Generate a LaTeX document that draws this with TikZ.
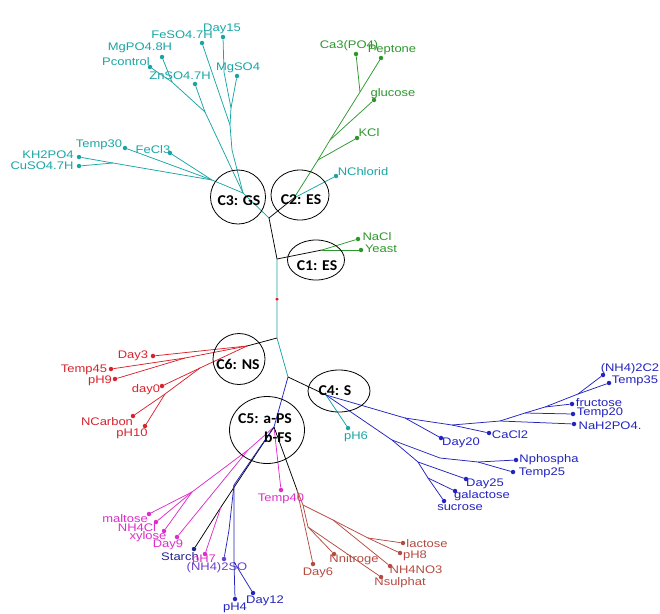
\documentclass[tikz,border=0pt]{standalone}
\usepackage{fontspec}
\usetikzlibrary{shapes.geometric}
\newfontfamily\labfont[FakeStretch=1.18]{Liberation Sans}
\newfontfamily\clfont[FakeStretch=1.05]{Carlito}
\definecolor{cy}{RGB}{25,165,165}
\definecolor{gr}{RGB}{45,150,45}
\definecolor{rd}{RGB}{215,35,45}
\definecolor{bl}{RGB}{35,35,190}
\definecolor{mg}{RGB}{220,45,200}
\definecolor{br}{RGB}{180,75,65}
\definecolor{nv}{RGB}{35,35,140}
\definecolor{pu}{RGB}{105,65,200}
\tikzset{
  lab/.style={font=\labfont\fontsize{11}{12}\selectfont, inner sep=0pt},
  dotn/.style={circle, inner sep=0pt, minimum size=4.5pt},
  edg/.style={line width=0.75pt},
  clus/.style={draw=black, ellipse, line width=0.8pt, inner sep=0pt},
  clab/.style={font=\clfont\bfseries\fontsize{15}{16}\selectfont, inner sep=0pt}
}
\newcommand\leafpt[7]{%
  \node[dotn,fill=#4] (#1) at (#2,#3) {};
  \node[lab,text=#4] (#1L) at (#5,#6) {#7};}
\begin{document}
\begin{tikzpicture}[x=1pt,y=-1pt]
\useasboundingbox (0,0) rectangle (660,613);
% ---------- internal points ----------
\coordinate (J0) at (269,218);
\coordinate (J1) at (277,259);
\coordinate (J2) at (277,338);
\coordinate (J3) at (288,377);
% cyan cluster
\coordinate (g1) at (243,193);
\coordinate (g2) at (232,150);
\coordinate (g3) at (231,108);
\coordinate (g4) at (224,72);
\coordinate (g5) at (230,125);
\coordinate (g6) at (172,82);
\coordinate (g7) at (205,112);
\coordinate (g8) at (113,163);
\coordinate (g9) at (212,180);
% green
\coordinate (e1) at (294,198);
\coordinate (e2) at (318,160);
\coordinate (e3) at (330,140);
\coordinate (e4) at (360,92);
\coordinate (c1) at (322,250);
% red
\coordinate (r1) at (247,346);
\coordinate (r2) at (185,358);
\coordinate (r3) at (200,368);
\coordinate (r4) at (165,394);
% blue C4
\coordinate (s1) at (326,395);
\coordinate (s2) at (405,418);
\coordinate (s3) at (452,425);
\coordinate (s4) at (500,421);
\coordinate (s5) at (525,413);
\coordinate (s6) at (545,407);
\coordinate (s7) at (578,394);
\coordinate (s8) at (392,440);
\coordinate (s9) at (440,458);
\coordinate (s10) at (418,462);
\coordinate (s11) at (478,462);
\coordinate (s12) at (428,478);
% C5
\coordinate (p1) at (274,427);
\coordinate (b1) at (297,490);
\coordinate (b2) at (303,505);
\coordinate (b3) at (308,527);
\coordinate (b4) at (333,520);
\coordinate (b5) at (368,538);
\coordinate (m1) at (248,450);
\coordinate (m2) at (192,492);
\coordinate (k1) at (221,507);
\coordinate (q1) at (234,485);
\coordinate (q2) at (229,530);
\coordinate (q3) at (234,562);
% ---------- leaves ----------
\leafpt{day15}{223}{37}{cy}{222}{29}{Day15}
\leafpt{feso}{202}{43}{cy}{182}{35}{FeSO4.7H}
\leafpt{mgpo}{162}{57}{cy}{140}{48}{MgPO4.8H}
\leafpt{pcon}{150}{67}{cy}{126}{62}{Pcontrol}
\leafpt{znso}{195}{84}{cy}{180}{76}{ZnSO4.7H}
\leafpt{mgso}{237}{76}{cy}{238}{68}{MgSO4}
\leafpt{temp30}{125}{148}{cy}{99}{145}{Temp30}
\leafpt{fecl}{170}{153}{cy}{153}{150}{FeCl3}
\leafpt{khpo}{79}{157}{cy}{48}{155}{KH2PO4}
\leafpt{cuso}{79}{166}{cy}{42}{166}{CuSO4.7H}
\leafpt{nchl}{336}{176}{cy}{363}{172}{NChlorid}
\leafpt{capo}{356}{54}{gr}{349}{46}{Ca3(PO4)}
\leafpt{pept}{381}{58}{gr}{392}{50}{Peptone}
\leafpt{gluc}{374}{100}{gr}{393}{94}{glucose}
\leafpt{kcl}{357}{138}{gr}{369}{133}{KCl}
\leafpt{nacl}{358}{239}{gr}{377}{237}{NaCl}
\leafpt{yeast}{361}{250}{gr}{381}{249}{Yeast}
\leafpt{day3}{153}{356}{rd}{133}{356}{Day3}
\leafpt{temp45}{111}{369}{rd}{84}{370}{Temp45}
\leafpt{ph9}{115}{379}{rd}{100}{381}{pH9}
\leafpt{day0}{162}{386}{rd}{146}{390}{day0}
\leafpt{ncarb}{133}{416}{rd}{107}{422}{NCarbon}
\leafpt{ph10}{145}{426}{rd}{132}{434}{pH10}
\leafpt{nhcc}{603}{375}{bl}{630}{369}{(NH4)2C2}
\leafpt{temp35}{609}{383}{bl}{635}{381}{Temp35}
\leafpt{fruc}{572}{404}{bl}{599}{403}{fructose}
\leafpt{temp20}{573}{414}{bl}{600}{413}{Temp20}
\leafpt{nahpo}{574}{424}{bl}{610}{426}{NaH2PO4.}
\leafpt{cacl}{489}{433}{bl}{510}{435}{CaCl2}
\leafpt{day20}{441}{438}{bl}{461}{443}{Day20}
\leafpt{nphos}{516}{460}{bl}{549}{460}{Nphospha}
\leafpt{temp25}{513}{472}{bl}{542}{473}{Temp25}
\leafpt{day25}{466}{479}{bl}{485}{484}{Day25}
\leafpt{galac}{455}{491}{bl}{482}{496}{galactose}
\leafpt{sucr}{444}{501}{bl}{460}{508}{sucrose}
\leafpt{ph6}{348}{428}{cy}{356}{437}{pH6}
\leafpt{malt}{149}{514}{mg}{125}{519}{maltose}
\leafpt{nhcl}{156}{522}{mg}{137}{528}{NH4Cl}
\leafpt{xyl}{164}{531}{mg}{148}{537}{xylose}
\leafpt{day9}{177}{537}{mg}{168}{545}{Day9}
\leafpt{starch}{194}{549}{nv}{180}{557}{Starch}
\leafpt{ph7}{205}{554}{mg}{204}{560}{pH7}
\leafpt{nhso}{224}{559}{pu}{217}{568}{(NH4)2SO}
\leafpt{ph4}{235}{599}{bl}{235}{608}{pH4}
\leafpt{day12}{253}{593}{bl}{265}{601}{Day12}
\leafpt{temp40}{281}{490}{mg}{281}{499}{Temp40}
\leafpt{day6}{313}{564}{br}{318}{573}{Day6}
\leafpt{nnit}{334}{554}{br}{354}{560}{Nnitroge}
\leafpt{nsul}{381}{577}{br}{400}{583}{Nsulphat}
\leafpt{nhno}{390}{566}{br}{416}{570}{NH4NO3}
\leafpt{ph8}{400}{553}{br}{415}{556}{pH8}
\leafpt{lact}{403}{543}{br}{427}{544}{lactose}
\node[dotn,fill=rd,minimum size=3.5pt] (root) at (277,299) {};
% ---------- edges ----------
% trunk
\draw[edg,black] (J0) -- (J1);
\draw[edg,cy] (J1) -- (root) -- (J2) -- (J3);
\draw[edg,cy] (J0) -- (g1);
\draw[edg,black] (J0) -- (e1);
\draw[edg,black] (J1) -- (c1);
\draw[edg,black] (J2) -- (r1);
\draw[edg,black] (J3) -- (s1);
\draw[edg,bl] (J3) -- (p1);
% cyan
\draw[edg,cy] (g1) -- (g2) -- (g5) -- (g3) -- (mgso);
\draw[edg,cy] (g3) -- (g4) -- (day15);
\draw[edg,cy] (g5) -- (feso);
\draw[edg,cy] (g1) -- (g7) -- (znso);
\draw[edg,cy] (g7) -- (g6) -- (pcon);
\draw[edg,cy] (g6) -- (mgpo);
\draw[edg,cy] (g1) -- (g9) -- (temp30);
\draw[edg,cy] (g9) -- (fecl);
\draw[edg,cy] (g9) -- (g8) -- (khpo);
\draw[edg,cy] (g8) -- (cuso);
\draw[edg,cy] (e1) -- (nchl);
% green
\draw[edg,gr] (e1) -- (e2) -- (kcl);
\draw[edg,gr] (e2) -- (e3) -- (gluc);
\draw[edg,gr] (e3) -- (e4) -- (pept);
\draw[edg,gr] (e4) -- (capo);
\draw[edg,gr] (c1) -- (nacl);
\draw[edg,gr] (c1) -- (yeast);
% red
\draw[edg,rd] (r1) -- (day3);
\draw[edg,rd] (r1) -- (r2) -- (temp45);
\draw[edg,rd] (r2) -- (ph9);
\draw[edg,rd] (r1) -- (r3) -- (day0);
\draw[edg,rd] (r3) -- (r4) -- (ncarb);
\draw[edg,rd] (r4) -- (ph10);
% blue C4
\draw[edg,cy] (s1) -- (ph6);
\draw[edg,bl] (s1) -- (s2) -- (day20);
\draw[edg,bl] (s2) -- (s3) -- (cacl);
\draw[edg,bl] (s3) -- (s4) -- (nahpo);
\draw[edg,bl] (s4) -- (s5) -- (temp20);
\draw[edg,bl] (s5) -- (s6) -- (fruc);
\draw[edg,bl] (s6) -- (s7) -- (nhcc);
\draw[edg,bl] (s7) -- (temp35);
\draw[edg,bl] (s1) -- (s8) -- (s9) -- (s11) -- (nphos);
\draw[edg,bl] (s11) -- (temp25);
\draw[edg,bl] (s8) -- (s10) -- (day25);
\draw[edg,bl] (s10) -- (s12) -- (galac);
\draw[edg,bl] (s12) -- (sucr);
% C5
\draw[edg,mg] (p1) -- (temp40);
\draw[edg,black] (p1) -- (b1);
\draw[edg,br] (b1) -- (day6);
\draw[edg,br] (b1) -- (b2) -- (b3) -- (nnit);
\draw[edg,br] (b3) -- (nsul);
\draw[edg,br] (b2) -- (b4) -- (nhno);
\draw[edg,br] (b4) -- (b5) -- (lact);
\draw[edg,br] (b5) -- (ph8);
\draw[edg,mg] (p1) -- (m1) -- (m2) -- (malt);
\draw[edg,mg] (m2) -- (nhcl);
\draw[edg,mg] (m2) -- (xyl);
\draw[edg,mg] (m1) -- (day9);
\draw[edg,black] (p1) -- (k1) -- (starch);
\draw[edg,mg] (k1) -- (ph7);
\draw[edg,bl] (p1) -- (q1) -- (q2) -- (nhso);
\draw[edg,bl] (q1) -- (q3) -- (ph4);
\draw[edg,bl] (q3) -- (day12);
% ---------- clusters ----------
\node[clus, minimum width=55pt, minimum height=54pt] (C3) at (238,197) {};
\node[clab] (C3t) at (239,201) {C3: GS};
\node[clus, minimum width=58pt, minimum height=50pt] (C2) at (300,195) {};
\node[clab] (C2t) at (301,200) {C2: ES};
\node[clus, minimum width=57pt, minimum height=40pt] (C1) at (316,260) {};
\node[clab] (C1t) at (317,266) {C1: ES};
\node[clus, minimum width=52pt, minimum height=51pt] (C6) at (239,359) {};
\node[clab] (C6t) at (238,364) {C6: NS};
\node[clus, minimum width=62pt, minimum height=42pt] (C4) at (339,391) {};
\node[clab] (C4t) at (335,391) {C4: S};
\node[clus, minimum width=75pt, minimum height=67pt] (C5) at (267,430) {};
\node[clab] (C5a) at (265,419) {C5: a-PS};
\node[clab] (C5b) at (278,437) {b-FS};
\end{tikzpicture}
\end{document}
